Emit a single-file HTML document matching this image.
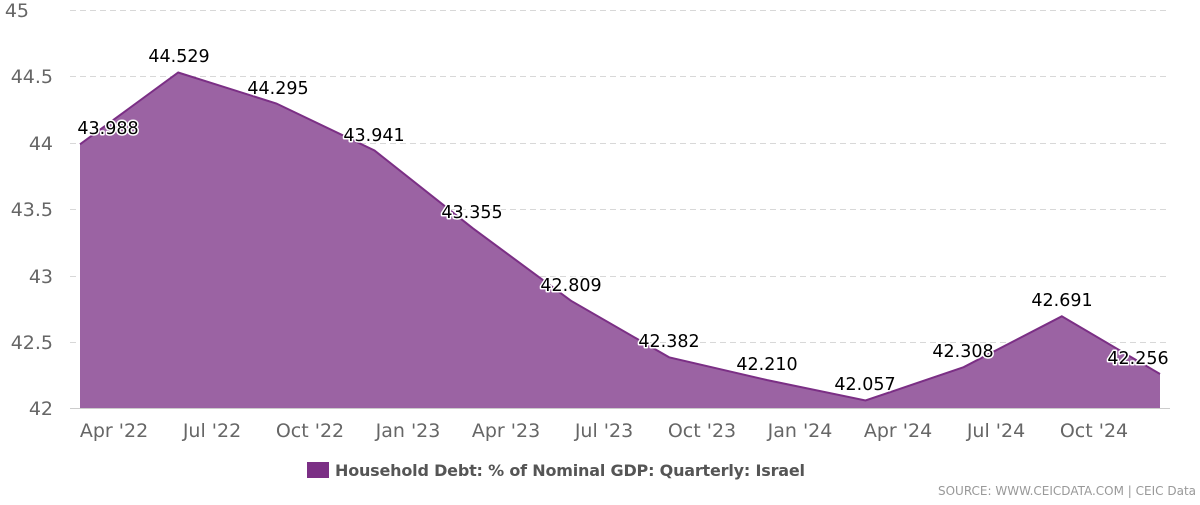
<!DOCTYPE html>
<html><head><meta charset="utf-8"><style>
body{margin:0;background:#fff;width:1200px;height:500px;overflow:hidden}
</style></head><body>
<svg width="1200" height="500" xmlns="http://www.w3.org/2000/svg" font-family="DejaVu Sans, sans-serif">
<g stroke="#d8d8d8" stroke-dasharray="6,4" stroke-width="1">
<line x1="70" x2="1170" y1="10.5" y2="10.5"/>
<line x1="70" x2="1170" y1="76.5" y2="76.5"/>
<line x1="70" x2="1170" y1="143.5" y2="143.5"/>
<line x1="70" x2="1170" y1="209.5" y2="209.5"/>
<line x1="70" x2="1170" y1="276.5" y2="276.5"/>
<line x1="70" x2="1170" y1="342.5" y2="342.5"/>
</g>
<line x1="70" x2="1170" y1="408.5" y2="408.5" stroke="#ccc"/>
<g fill="#666" font-size="19" text-anchor="end">
<text x="29" y="17">45</text><text x="53" y="83">44.5</text><text x="53" y="150">44</text>
<text x="53" y="216">43.5</text><text x="53" y="283">43</text><text x="53" y="349">42.5</text><text x="53" y="415">42</text>
</g>
<path d="M80,144.3 L178.2,72.5 L276.4,103.5 L374.5,150.5 L472.7,228.2 L570.9,300.7 L669.1,357.3 L767.3,380.1 L865.5,400.5 L963.6,367.2 L1061.8,316.3 L1160,374 L1160,408 L80,408 Z" fill="#9b63a3"/>
<path d="M80,144.3 L178.2,72.5 L276.4,103.5 L374.5,150.5 L472.7,228.2 L570.9,300.7 L669.1,357.3 L767.3,380.1 L865.5,400.5 L963.6,367.2 L1061.8,316.3 L1160,374" fill="none" stroke="#7b2f85" stroke-width="2"/>
<g font-size="17.5" text-anchor="middle" fill="#000" stroke="#fff" stroke-width="3" paint-order="stroke" stroke-linejoin="round">
<text x="108" y="134">43.988</text><text x="179" y="62">44.529</text><text x="278" y="94">44.295</text>
<text x="374" y="141">43.941</text><text x="472" y="218">43.355</text><text x="571" y="291">42.809</text>
<text x="669" y="347">42.382</text><text x="767" y="370">42.210</text><text x="865" y="390">42.057</text>
<text x="963" y="357">42.308</text><text x="1062" y="306">42.691</text><text x="1138" y="364">42.256</text>
</g>
<g fill="#666" font-size="19" text-anchor="middle">
<text x="114" y="437">Apr '22</text><text x="212" y="437">Jul '22</text><text x="310" y="437">Oct '22</text>
<text x="408" y="437">Jan '23</text><text x="506" y="437">Apr '23</text><text x="604" y="437">Jul '23</text>
<text x="702" y="437">Oct '23</text><text x="800" y="437">Jan '24</text><text x="898" y="437">Apr '24</text>
<text x="996" y="437">Jul '24</text><text x="1094" y="437">Oct '24</text>
</g>
<rect x="307" y="462" width="22" height="16" fill="#7b2f85"/>
<text x="335" y="476" font-size="16" font-weight="bold" fill="#555" textLength="470">Household Debt: % of Nominal GDP: Quarterly: Israel</text>
<text x="1196" y="495" font-size="12" fill="#999" text-anchor="end">SOURCE: WWW.CEICDATA.COM | CEIC Data</text>
</svg>
</body></html>
